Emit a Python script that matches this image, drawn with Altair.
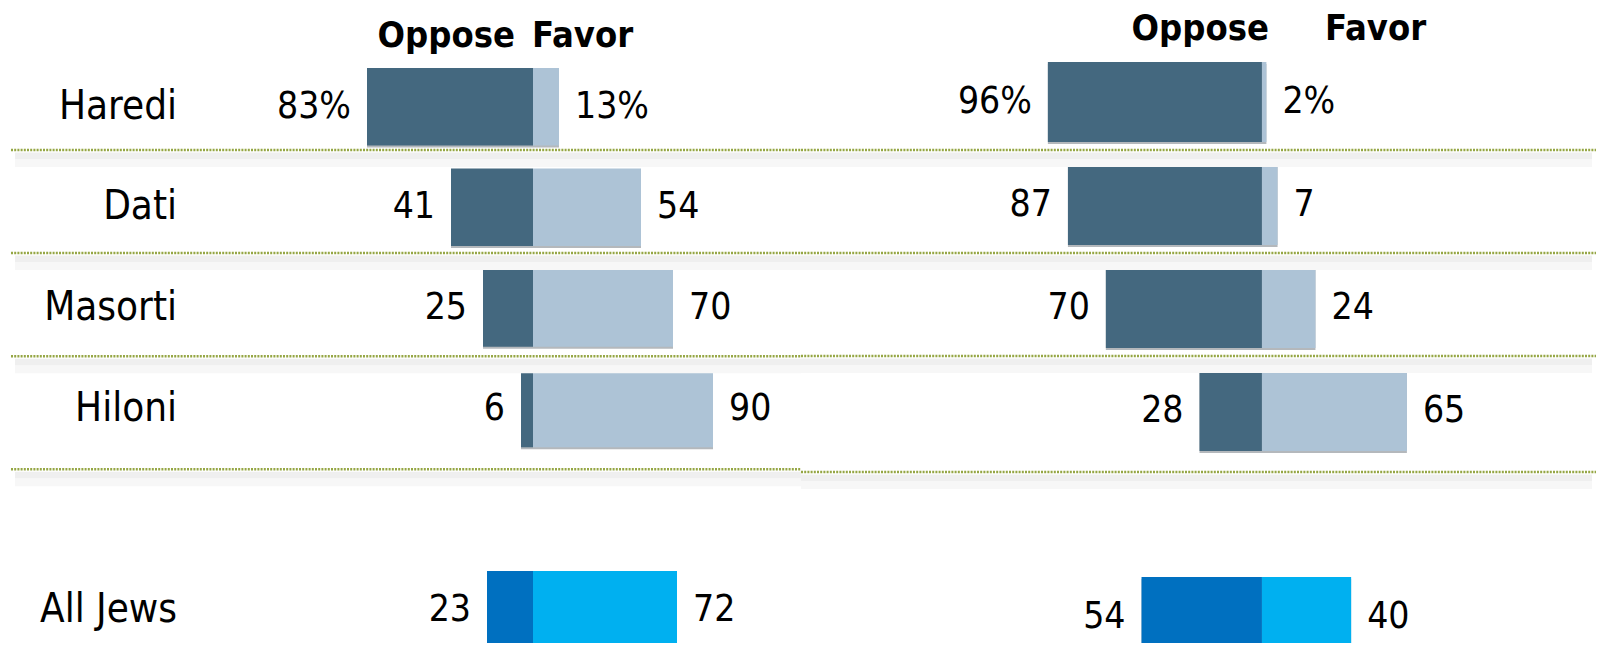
import altair as alt
import pandas as pd

# ---- data ----
rows = ["Haredi", "Dati", "Masorti", "Hiloni", "All Jews"]
groups = ["sub", "sub", "sub", "sub", "all"]
left_oppose = [83, 41, 25, 6, 23]
left_favor = [13, 54, 70, 90, 72]
right_oppose = [96, 87, 70, 28, 54]
right_favor = [2, 7, 24, 65, 40]
left_oppose_labels = ["83%", "41", "25", "6", "23"]
left_favor_labels = ["13%", "54", "70", "90", "72"]
right_oppose_labels = ["96%", "87", "70", "28", "54"]
right_favor_labels = ["2%", "7", "24", "65", "40"]
header_labels = ["Oppose", "Favor"]
divider_rows = ["Haredi", "Dati", "Masorti", "Hiloni"]
y_domain = ["Haredi", "Dati", "Masorti", "Hiloni", " ", "All Jews"]

color_domain = ["Oppose|sub", "Favor|sub", "Oppose|all", "Favor|all"]
color_range = ["#44687f", "#adc3d6", "#0070c0", "#00b0f0"]

FONT = "DejaVu Sans Condensed, Liberation Sans Narrow, DejaVu Sans, sans-serif"
H = 635


def panel(oppose, favor, opp_lab, fav_lab, width, xdom, yrange, pinner,
          head_y, head_dx, line_offs, row_labels, sh_x0, sh_x1):
    bars = []
    for r, g, o, f in zip(rows, groups, oppose, favor):
        bars.append({"row": r, "key": "Oppose|" + g, "x0": -o, "x1": 0})
        bars.append({"row": r, "key": "Favor|" + g, "x0": 0, "x1": f})
    bars = pd.DataFrame(bars)
    tot = pd.DataFrame({"row": rows, "x0": [-o for o in oppose], "x1": favor})
    labs = pd.DataFrame({"row": rows, "xo": [-o for o in oppose], "xf": favor,
                         "lo": opp_lab, "lf": fav_lab})

    xs = alt.Scale(domain=xdom, nice=False, zero=False)
    ys = alt.Scale(domain=y_domain, range=yrange, paddingInner=pinner, paddingOuter=0)
    X = lambda f: alt.X(f, type="quantitative", scale=xs, axis=None)
    Y = alt.Y("row:N", scale=ys, axis=None)

    shadow = alt.Chart(tot).mark_bar(color="#b4b8bc", yOffset=2, clip=True).encode(
        x=X("x0"), x2="x1", y=Y)
    bar = alt.Chart(bars).mark_bar(clip=True).encode(
        x=X("x0"), x2="x1", y=Y,
        color=alt.Color("key:N", scale=alt.Scale(domain=color_domain, range=color_range), legend=None))
    tl = alt.Chart(labs).mark_text(align="right", baseline="middle", dx=-16,
                                   font=FONT, fontSize=37, color="#000").encode(
        x=X("xo"), y=Y, text="lo:N")
    tr = alt.Chart(labs).mark_text(align="left", baseline="middle", dx=16,
                                   font=FONT, fontSize=37, color="#000").encode(
        x=X("xf"), y=Y, text="lf:N")

    hd = pd.DataFrame({"h": header_labels})
    h1 = alt.Chart(hd[hd.h == "Oppose"]).mark_text(
        align="right", baseline="alphabetic", dx=head_dx[0], font=FONT,
        fontSize=36, fontWeight="bold", color="#000").encode(
        x=alt.datum(0, scale=xs), y=alt.value(head_y), text="h:N")
    h2 = alt.Chart(hd[hd.h == "Favor"]).mark_text(
        align="left", baseline="alphabetic", dx=head_dx[1], font=FONT,
        fontSize=36, fontWeight="bold", color="#000").encode(
        x=alt.datum(0, scale=xs), y=alt.value(head_y), text="h:N")

    Yb = alt.Y("row:N", scale=ys, axis=None, bandPosition=1)
    layers = [shadow, bar, tl, tr, h1, h2]
    for r, off in zip(divider_rows, line_offs):
        df = pd.DataFrame({"row": [r]})
        layers.append(alt.Chart(df).mark_rule(color="#efefef", strokeWidth=7, yOffset=off + 6).encode(
            x=alt.value(sh_x0), x2=alt.value(sh_x1), y=Yb))
        layers.append(alt.Chart(df).mark_rule(color="#f7f7f7", strokeWidth=8, yOffset=off + 13).encode(
            x=alt.value(sh_x0), x2=alt.value(sh_x1), y=Yb))
        layers.append(alt.Chart(df).mark_rule(color="#95a644", strokeWidth=2.4, strokeDash=[2, 1.2],
                                              yOffset=off).encode(
            x=alt.value(0), x2=alt.value(width), y=Yb))
    if row_labels:
        rl = pd.DataFrame({"row": rows})
        layers.append(alt.Chart(rl).mark_text(align="right", baseline="middle", font=FONT,
                                              fontSize=40, color="#000").encode(
            x=alt.value(166), y=Y, text="row:N"))
    return alt.layer(*layers).properties(width=width, height=H)


left = panel(left_oppose, left_favor, left_oppose_labels, left_favor_labels,
             790, [-261, 134], [60, 640.5], 0.23, 39, (-18, -1), [4.5, 7, 9.5, 22], True, 4, 790)
right = panel(right_oppose, right_favor, right_oppose_labels, right_favor_labels,
              795, [-206.7, 149.8], [54, 649], 0.223, 32, (7, 63), [8, 8, 8, 21], False, 0, 791)

chart = alt.hconcat(left, right, spacing=0, bounds="flush").resolve_scale(
    x="independent", y="independent", color="shared").properties(
    padding={"left": 1, "top": 0, "right": 0, "bottom": 0}).configure_view(stroke=None)

chart.save("out.html", embed_options={"renderer": "svg", "actions": False})
